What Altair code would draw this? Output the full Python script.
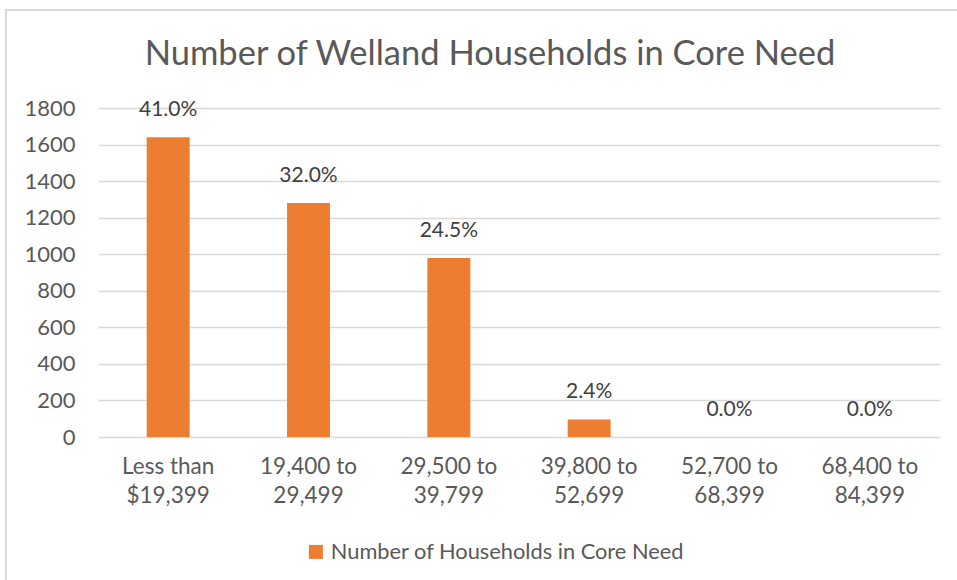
import altair as alt
import pandas as pd

categories = ["Less than|$19,399", "19,400 to|29,499", "29,500 to|39,799",
              "39,800 to|52,699", "52,700 to|68,399", "68,400 to|84,399"]
households = [1640, 1280, 980, 96, 0, 0]
percent = [41.0, 32.0, 24.5, 2.4, 0.0, 0.0]
series_name = "Number of Households in Core Need"
y_ticks = [0, 200, 400, 600, 800, 1000, 1200, 1400, 1600, 1800]

df = pd.DataFrame({"category": categories, "households": households,
                   "percent": percent, "series": series_name})

FONT = "Lato"
GREY = "#595959"

x_enc = alt.X("category:N", sort=categories, title=None,
              scale=alt.Scale(paddingInner=0.694, paddingOuter=0.347),
              axis=alt.Axis(labelExpr="split(datum.label, '|')", labelAngle=0,
                            labelFontSize=22.5, labelColor=GREY, labelFont=FONT,
                            labelPadding=18, labelLineHeight=29, domain=False,
                            ticks=False, grid=False, labelBaseline="top"))
y_enc = alt.Y("households:Q", title=None,
              scale=alt.Scale(domain=[0, 1800], nice=False),
              axis=alt.Axis(values=y_ticks, format="d", labelOverlap=False,
                            labelFontSize=22, labelColor=GREY,
                            labelFont=FONT, labelPadding=23, domain=False,
                            ticks=False, gridColor="#D9D9D9", gridWidth=1.5))

bars = alt.Chart(df).mark_bar(color="#ED7D31").encode(
    x=x_enc, y=y_enc,
    color=alt.Color("series:N", title=None,
                    scale=alt.Scale(range=["#ED7D31"]),
                    legend=alt.Legend(orient="none", legendX=207, legendY=433,
                                      symbolType="square", symbolSize=196,
                                      symbolStrokeWidth=0, labelFontSize=21.8,
                                      labelColor=GREY, labelFont=FONT,
                                      padding=0, labelOffset=4, labelLimit=600))
)

labels = alt.Chart(df).transform_calculate(
    label="format(datum.percent, '.1f') + '%'"
).mark_text(baseline="middle", dy=-27, fontSize=21, color="#404040",
            font=FONT).encode(
    x=x_enc,
    y=y_enc,
    text="label:N"
)

border_left = alt.Chart(df).mark_rule(color="#D9D9D9", strokeWidth=2).encode(
    x=alt.value(-92), y=alt.value(-99), y2=alt.value(480))
border_top = alt.Chart(df).mark_rule(color="#D9D9D9", strokeWidth=2).encode(
    x=alt.value(-93), x2=alt.value(870), y=alt.value(-98))

chart = alt.layer(border_left, border_top, bars, labels).properties(
    width=842, height=329,
    title=alt.TitleParams("Number of Welland Households in Core Need",
                          fontSize=34.5, font=FONT, color=GREY, fontWeight="normal",
                          anchor="middle", offset=0, dy=64, dx=-29),
    autosize=alt.AutoSizeParams(type="none"),
    padding={"left": 98, "top": 108, "right": 17, "bottom": 143},
    background="white"
).configure_view(strokeWidth=0)

chart.save("out.html", embed_options={"renderer": "svg", "actions": False})
